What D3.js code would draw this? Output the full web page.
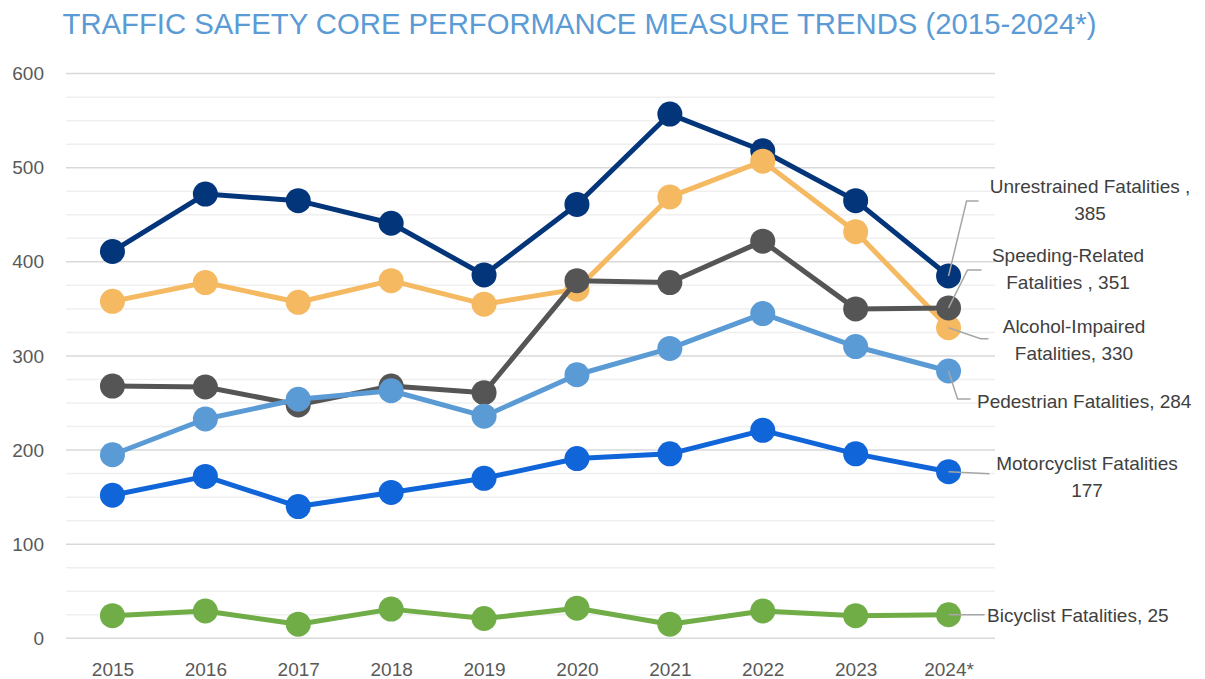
<!DOCTYPE html>
<html>
<head>
<meta charset="utf-8">
<script src="https://cdn.jsdelivr.net/npm/d3@7"></script>
<style>
  html, body { margin: 0; padding: 0; background: #fff; }
  svg { display: block; font-family: "Liberation Sans", Arial, sans-serif; }
</style>
</head>
<body>
<div id="chart"></div>
<script>
const years = ["2015", "2016", "2017", "2018", "2019", "2020", "2021", "2022", "2023", "2024*"];

const unrestrained = [411, 472, 465, 441, 386, 461, 557, 518, 465, 385];
const alcoholImpaired = [358, 378, 357, 380, 355, 371, 469, 507, 432, 330];
const speedingRelated = [268, 267, 248, 268, 261, 380, 378, 422, 350, 351];
const pedestrian = [195, 233, 254, 263, 236, 280, 308, 345, 310, 284];
const motorcyclist = [152, 172, 140, 155, 170, 191, 196, 221, 196, 177];
const bicyclist = [24, 29, 15, 31, 21, 32, 15, 29, 24, 25];

const yTicks = [0, 100, 200, 300, 400, 500, 600];
const title = "TRAFFIC SAFETY CORE PERFORMANCE MEASURE TRENDS (2015-2024*)";

// drawing order matches the reference overlaps (later ones on top)
const series = [
    { name: "Unrestrained Fatalities", values: unrestrained, color: "#03357a",
      label: v => ["Unrestrained Fatalities ,", `${v}`], lx: 1090, ly: 193, anchor: "middle",
      leader: [[18, -75], [30, -75]] },
    { name: "Alcohol-Impaired Fatalities", values: alcoholImpaired, color: "#f4b961",
      label: v => ["Alcohol-Impaired", `Fatalities, ${v}`], lx: 1074, ly: 333, anchor: "middle",
      leader: [[32, 11], [40, 11]] },
    { name: "Speeding-Related Fatalities", values: speedingRelated, color: "#555555",
      label: v => ["Speeding-Related", `Fatalities , ${v}`], lx: 1068, ly: 262, anchor: "middle",
      leader: [[19, -38], [33, -38]] },
    { name: "Pedestrian Fatalities", values: pedestrian, color: "#5b9bd5",
      label: v => [`Pedestrian Fatalities, ${v}`], lx: 977, ly: 408, anchor: "start",
      leader: [[9, 28], [22, 28]] },
    { name: "Motorcyclist Fatalities", values: motorcyclist, color: "#1065d8",
      label: v => ["Motorcyclist Fatalities", `${v}`], lx: 1087, ly: 470, anchor: "middle",
      leader: [[41, 2]] },
    { name: "Bicyclist Fatalities", values: bicyclist, color: "#70ad47",
      label: v => [`Bicyclist Fatalities, ${v}`], lx: 987, ly: 622, anchor: "start",
      leader: [[36, 0]] }
];

const width = 1205, height = 679;
const margin = { left: 66, right: 210, top: 73.6, bottom: 40.7 };

const svg = d3.select("#chart").append("svg").attr("width", width).attr("height", height);

svg.append("text").attr("x", 62.5).attr("y", 34)
    .attr("fill", "#5b9bd5").style("font-size", "29px")
    .attr("textLength", 1034).attr("lengthAdjust", "spacingAndGlyphs")
    .text(title);

const x = d3.scalePoint().domain(years).range([margin.left, width - margin.right]).padding(0.5);
const y = d3.scaleLinear().domain([0, 600]).range([height - margin.bottom, margin.top]);

// minor + major gridlines
const grid = svg.append("g");
grid.selectAll(".minor").data(d3.range(0, 601, 25).filter(v => v % 100 !== 0)).enter().append("line")
    .attr("x1", margin.left).attr("x2", width - margin.right)
    .attr("y1", d => y(d)).attr("y2", d => y(d))
    .attr("stroke", "#efefef").attr("stroke-width", 1.5);
grid.selectAll(".major").data(yTicks).enter().append("line")
    .attr("x1", margin.left).attr("x2", width - margin.right)
    .attr("y1", d => y(d)).attr("y2", d => y(d))
    .attr("stroke", "#d9d9d9").attr("stroke-width", 1.5);

const yAxis = svg.append("g").attr("transform", `translate(${margin.left},0)`)
    .call(d3.axisLeft(y).tickValues(yTicks).tickSize(0).tickPadding(22));
yAxis.select(".domain").remove();
yAxis.selectAll("text").style("font-size", "19px").style("font-family", "'Liberation Sans', Arial, sans-serif").attr("fill", "#595959");

const xAxis = svg.append("g").attr("transform", `translate(0,${y(0)})`)
    .call(d3.axisBottom(x).tickSize(0).tickPadding(24));
xAxis.select(".domain").remove();
xAxis.selectAll("text").style("font-size", "19px").style("font-family", "'Liberation Sans', Arial, sans-serif").attr("fill", "#595959");

const line = d3.line().x((d, i) => x(years[i])).y(d => y(d));

series.forEach(s => {
    const g = svg.append("g");
    g.append("path").datum(s.values).attr("d", line)
        .attr("fill", "none").attr("stroke", s.color).attr("stroke-width", 5)
        .attr("stroke-linejoin", "round");
    g.selectAll("circle").data(s.values).enter().append("circle")
        .attr("cx", (d, i) => x(years[i])).attr("cy", d => y(d)).attr("r", 12.5)
        .attr("fill", s.color);
});

// data labels for the last point with leader lines
series.forEach(s => {
    const last = s.values[s.values.length - 1];
    const px = x(years[years.length - 1]), py = y(last);
    const pts = [[px, py], ...s.leader.map(([dx, dy]) => [px + dx, py + dy])];
    svg.append("path").attr("d", d3.line()(pts))
        .attr("fill", "none").attr("stroke", "#a6a6a6").attr("stroke-width", 1.5);
    const t = svg.append("text").attr("text-anchor", s.anchor).attr("fill", "#404040")
        .style("font-size", "19px");
    s.label(last).forEach((txt, i) => {
        t.append("tspan").attr("x", s.lx).attr("y", s.ly + i * 26.5).text(txt);
    });
});
</script>
</body>
</html>
